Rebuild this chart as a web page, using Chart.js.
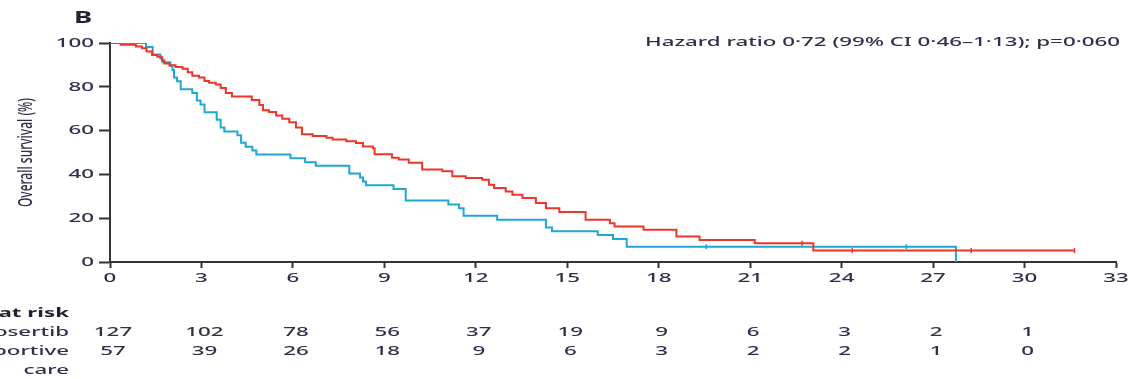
<!DOCTYPE html>
<html><head><meta charset="utf-8">
<script src="https://cdn.jsdelivr.net/npm/chart.js@4.4.1/dist/chart.umd.min.js"></script>
<style>html,body{margin:0;padding:0;background:#fff;overflow:hidden}canvas{display:block}</style>
</head><body>
<canvas id="c" width="1129" height="379"></canvas>
<script>
// ---------- data ----------
const panelLabel = 'B';
const hazardText = 'Hazard ratio 0·72 (99% CI 0·46–1·13); p=0·060';
const yTitle = 'Overall survival (%)';
const xTicks = [0, 3, 6, 9, 12, 15, 18, 21, 24, 27, 30, 33];
const yTicks = [0, 20, 40, 60, 80, 100];
const riskHeader = 'Number at risk';
const groupDrug = 'Rigosertib';
const groupBsc = ['Best supportive', 'care'];
const riskTimes = [0, 3, 6, 9, 12, 15, 18, 21, 24, 27, 30];
const riskDrug = [127, 102, 78, 56, 37, 19, 9, 6, 3, 2, 1];
const riskBsc = [57, 39, 26, 18, 9, 6, 3, 2, 2, 1, 0];

const drugTimes = [0, 0.35, 0.85, 1.05, 1.2, 1.38, 1.55, 1.7, 1.78, 1.95, 2.15, 2.38, 2.55, 2.7, 2.92, 3.1, 3.25, 3.47, 3.63, 3.8, 4.0, 4.65, 4.9, 5.02, 5.22, 5.45, 5.65, 5.88, 6.1, 6.3, 6.65, 7.1, 7.3, 7.75, 8.07, 8.3, 8.62, 8.68, 9.25, 9.47, 9.8, 10.24, 10.9, 11.23, 11.67, 12.21, 12.43, 12.6, 12.98, 13.2, 13.53, 13.97, 14.3, 14.74, 15.6, 16.4, 16.55, 17.5, 18.58, 19.34, 21.15, 23.07, 31.64];
const drugSurv  = [100, 99.2, 98.4, 97.6, 96.1, 94.5, 93.7, 92.1, 90.6, 89.8, 89.0, 88.2, 86.6, 85.0, 84.3, 82.7, 81.9, 81.1, 79.5, 77.2, 75.6, 74.0, 71.7, 69.3, 68.5, 66.9, 65.4, 63.8, 61.4, 58.3, 57.5, 56.7, 55.9, 55.1, 54.3, 52.7, 51.9, 49.2, 47.6, 46.8, 45.3, 42.2, 41.4, 39.1, 38.4, 37.6, 35.3, 33.8, 32.2, 30.7, 29.2, 26.9, 24.6, 22.8, 19.3, 17.7, 16.2, 14.7, 11.6, 10.1, 8.6, 5.2, 5.2];

const bscTimes = [0, 1.18, 1.4, 1.65, 1.72, 1.98, 2.05, 2.1, 2.2, 2.32, 2.7, 2.85, 2.97, 3.1, 3.5, 3.63, 3.75, 4.18, 4.3, 4.45, 4.67, 4.8, 5.92, 6.4, 6.75, 7.85, 8.2, 8.3, 8.4, 9.3, 9.7, 11.1, 11.45, 11.6, 12.7, 14.3, 14.5, 16.0, 16.5, 16.95, 27.75];
const bscSurv  = [100, 98.2, 94.7, 93.0, 91.2, 89.5, 87.7, 84.2, 82.5, 78.9, 77.2, 73.7, 71.9, 68.4, 64.9, 61.4, 59.6, 57.9, 54.4, 52.6, 50.9, 49.1, 47.4, 45.6, 43.9, 40.4, 38.6, 36.8, 35.1, 33.3, 28.1, 26.3, 24.6, 21.1, 19.3, 15.8, 14.0, 12.3, 10.5, 7.0, 0];

const drugCensorTimes = [22.7, 24.35, 28.25, 31.64];
const drugCensorSurv  = [8.6, 5.2, 5.2, 5.2];
const bscCensorTimes  = [19.56, 26.12];
const bscCensorSurv   = [7.0, 7.0];

// ---------- style ----------
const RED = '#ef3429';
const BLUE = '#1ea8d0';
const AX = '#333333';
const TXT = '#2f2f4d';
const FONT = 'Noto Sans';
const W = 500;

const canvas = document.getElementById('c');
const ctx = canvas.getContext('2d');
// horizontal text stretch to mimic the reference's wide lettering
ctx.font = W + ' 13px "' + FONT + '"';
const SX = 475 / ctx.measureText(hazardText).width;
const origFill = ctx.fillText.bind(ctx);
ctx.fillText = function (t, x, y, mw) {
  const m = this.getTransform();
  this.save();
  this.translate(x, y);
  if (Math.abs(m.b) > 0.5) this.scale(1, SX); else this.scale(SX, 1);
  origFill(t, 0, 0);
  this.restore();
};

const pts = (xs, ys) => xs.map((t, i) => ({ x: t, y: ys[i] }));

const annot = {
  id: 'annot',
  afterDraw(chart) {
    const c = chart.ctx;
    const xs = chart.scales.x;
    c.save();
    c.fillStyle = '#222233';
    c.textBaseline = 'middle';
    c.textAlign = 'left';
    c.font = 'bold 16px "' + FONT + '"';
    c.fillText(panelLabel, 74, 18);
    c.fillStyle = TXT;
    c.font = W + ' 13px "' + FONT + '"';
    c.textAlign = 'right';
    c.fillText(hazardText, 1120, 42);
    // risk table
    c.font = 'bold 13px "' + FONT + '"';
    c.fillStyle = '#222233';
    c.fillText(riskHeader, 69, 313);
    c.fillStyle = TXT;
    c.font = W + ' 13px "' + FONT + '"';
    c.fillText(groupDrug, 69, 332);
    c.fillText(groupBsc[0], 69, 351.5);
    c.fillText(groupBsc[1], 69, 370);
    c.textAlign = 'center';
    riskTimes.forEach((t, i) => {
      const px = xs.getPixelForValue(t) + 3;
      c.fillText(String(riskDrug[i]), px, 332);
      c.fillText(String(riskBsc[i]), px, 351.5);
    });
    c.restore();
  }
};

new Chart(ctx, {
  type: 'line',
  data: {
    datasets: [
      { data: pts(drugTimes, drugSurv), borderColor: RED, borderWidth: 2, stepped: true, pointRadius: 0, fill: false },
      { data: pts(bscTimes, bscSurv), borderColor: BLUE, borderWidth: 2, stepped: true, pointRadius: 0, fill: false },
      { data: pts(drugCensorTimes, drugCensorSurv), showLine: false, pointStyle: 'line', rotation: 90, pointRadius: 2.5, borderColor: RED, borderWidth: 1.5 },
      { data: pts(bscCensorTimes, bscCensorSurv), showLine: false, pointStyle: 'line', rotation: 90, pointRadius: 2.5, borderColor: BLUE, borderWidth: 1.5 }
    ]
  },
  options: {
    responsive: false,
    animation: false,
    devicePixelRatio: 1,
    layout: { padding: { left: 0, right: 13, top: 43, bottom: 0 } },
    plugins: { legend: { display: false }, tooltip: { enabled: false }, title: { display: false } },
    scales: {
      x: {
        type: 'linear', min: 0, max: 33,
        afterBuildTicks: s => { s.ticks = xTicks.map(v => ({ value: v })); },
        afterFit: s => { s.height = 117; },
        ticks: { autoSkip: false, maxRotation: 0, padding: 2, color: TXT, font: { family: FONT, size: 13, weight: W } },
        grid: { drawOnChartArea: false, tickLength: 6, tickWidth: 2, tickColor: AX, color: AX },
        border: { color: AX, width: 2 }
      },
      y: {
        type: 'linear', min: 0, max: 100,
        afterBuildTicks: s => { s.ticks = yTicks.map(v => ({ value: v })); },
        afterFit: s => { s.width = 110; },
        ticks: { padding: 5, color: TXT, font: { family: FONT, size: 13, weight: W } },
        grid: { drawOnChartArea: false, tickLength: 11, tickWidth: 2, tickColor: AX, color: AX },
        border: { color: AX, width: 2 },
        title: { display: true, text: yTitle, color: TXT, font: { family: FONT, size: 12, weight: W }, padding: { top: 19, bottom: 0 } }
      }
    }
  },
  plugins: [annot]
});
</script>
</body></html>
